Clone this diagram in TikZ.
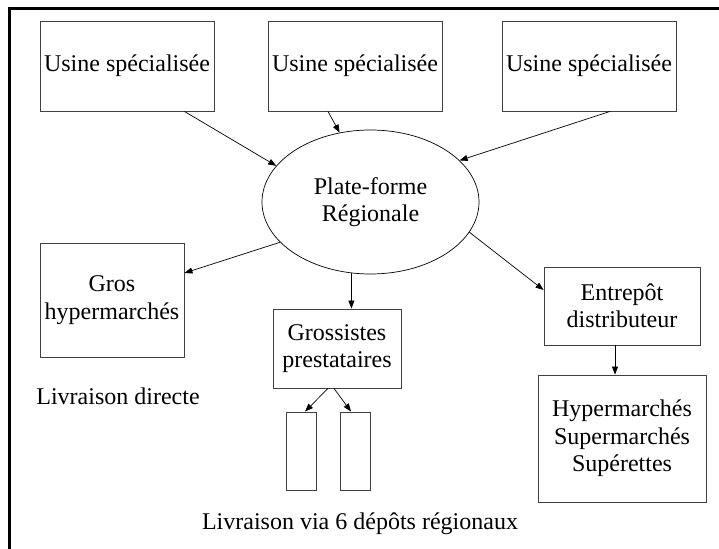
\documentclass[tikz,border=0pt]{standalone}
\usepackage{fontspec}
\setmainfont{Liberation Serif}
\usetikzlibrary{arrows.meta,shapes.geometric}
\begin{document}
\begin{tikzpicture}[x=1bp,y=-1bp,
  every node/.style={font=\fontsize{24bp}{27.5bp}\selectfont, inner sep=0pt},
  box/.style={draw=black!75, line width=0.9bp, rectangle, align=center},
  plate/.style={draw=black, line width=0.7bp, ellipse, align=center},
  conn/.style={draw=black, line width=0.7bp, -{Triangle[length=8bp,width=6bp]}},
  frameline/.style={line width=3bp, black},
  lbl/.style={align=center}
]
\useasboundingbox (0,0) rectangle (719,549);
% frame
\coordinate (fa) at (719,9);
\coordinate (fb) at (9,9);
\coordinate (fc) at (9,549);
\draw[frameline] (fa) -- (fb) -- (fc);

% nodes
\node[box, minimum width=174bp, minimum height=90bp] (u1) at (127,66) {Usine spécialisée};
\node[box, minimum width=174bp, minimum height=90bp] (u2) at (355,66) {Usine spécialisée};
\node[box, minimum width=174bp, minimum height=90bp] (u3) at (589,66) {Usine spécialisée};
\node[plate, minimum width=217bp, minimum height=144bp] (pf) at (370.5,202) {Plate-forme\\Régionale};
\node[box, minimum width=144bp, minimum height=114bp] (gros) at (112,300) {Gros\\hypermarchés};
\node[box, minimum width=128bp, minimum height=79bp] (gross) at (337,348.5) {Grossistes\\prestataires};
\node[box, minimum width=30bp, minimum height=78bp] (r1) at (301,451) {};
\node[box, minimum width=30bp, minimum height=78bp] (r2) at (355,451) {};
\node[box, minimum width=156bp, minimum height=78bp] (ent) at (622,306) {Entrepôt\\distributeur};
\node[box, minimum width=168bp, minimum height=127bp] (hyp) at (622,438.5) {Hypermarchés\\Supermarchés\\Supérettes};
\node[lbl] (ld) at (118,396) {Livraison directe};
\node[lbl] (lv) at (360,524) {Livraison via 6 dépôts régionaux};

% connectors
\draw[conn] ([xshift=-30bp]u1.south east) -- (pf.159.7);
\draw[conn] ([xshift=-27bp]u2.south) -- (pf.114.9);
\draw[conn] ([xshift=21bp]u3.south) -- (pf.25.2);
\draw[conn] (pf.204.7) -- ([yshift=27bp]gros.east);
\draw[conn] (pf.255.6) -- (pf.255.6 |- gross.north);
\draw[conn] (pf.343.5) -- ([yshift=16bp]ent.west);
\draw[conn] ([xshift=-7bp]ent.south) -- ([xshift=-7bp]hyp.north);
\draw[conn] ([xshift=-9bp]gross.south) -- ([xshift=4bp]r1.north);
\draw[conn] ([xshift=-3bp]gross.south) -- ([xshift=-4bp]r2.north);
\end{tikzpicture}
\end{document}
